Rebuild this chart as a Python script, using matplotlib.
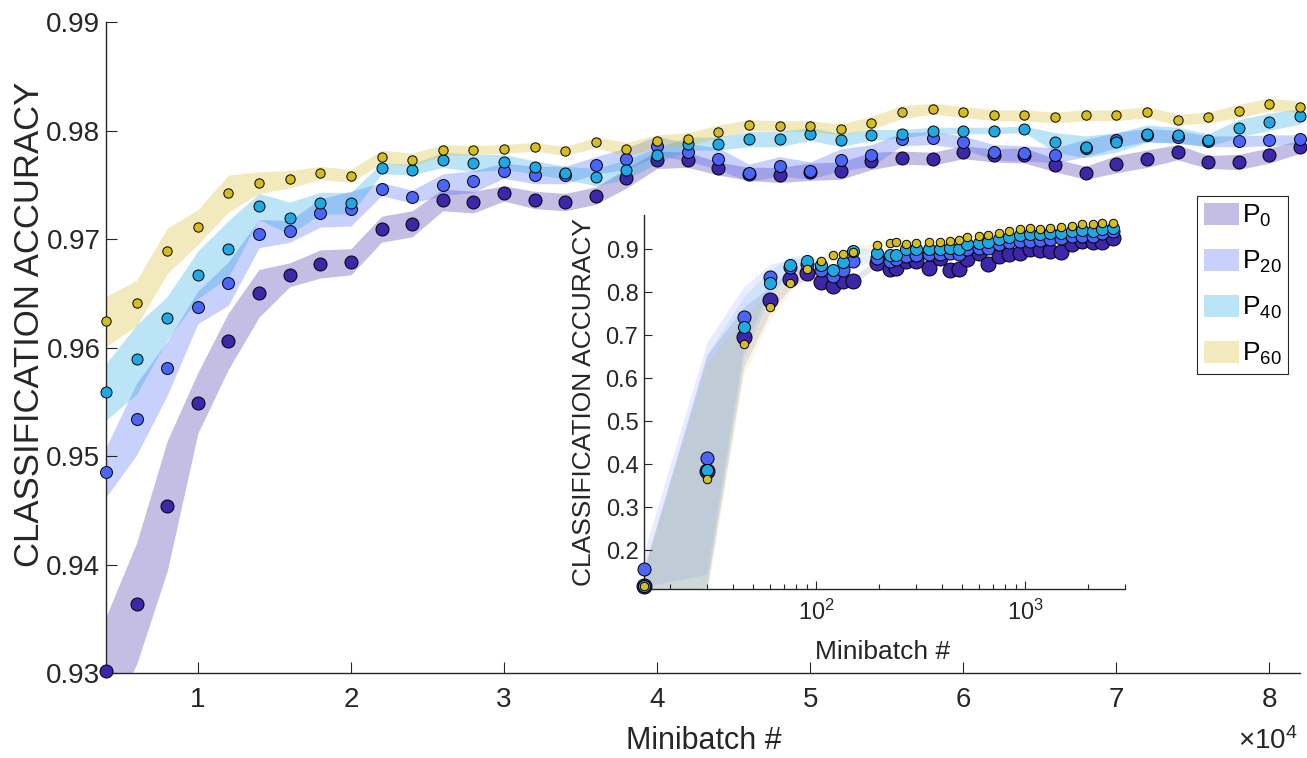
import numpy as np
import matplotlib
matplotlib.use('Agg')
import matplotlib.pyplot as plt
from matplotlib.patches import Patch
from matplotlib.ticker import FixedLocator, FuncFormatter, LogLocator, NullFormatter

plt.rcParams['font.family'] = ['Liberation Sans', 'DejaVu Sans']
plt.rcParams['mathtext.fontset'] = 'custom'
plt.rcParams['mathtext.rm'] = 'Liberation Sans'
plt.rcParams['mathtext.it'] = 'Liberation Sans:italic'
plt.rcParams['mathtext.bf'] = 'Liberation Sans:bold'

# ---- data: main panel (mean accuracy and band half-width per series)
minibatch = list(range(4000, 82001, 2000))

acc_p0 = [0.9302, 0.9364, 0.9454, 0.9549, 0.9606, 0.9650, 0.9667, 0.9677, 0.9679, 0.9709,
          0.9714, 0.9736, 0.9734, 0.9742, 0.9736, 0.9734, 0.9740, 0.9756, 0.9773, 0.9773,
          0.9765, 0.9760, 0.9759, 0.9762, 0.9763, 0.9772, 0.9775, 0.9774, 0.9780, 0.9777,
          0.9777, 0.9768, 0.9761, 0.9769, 0.9774, 0.9780, 0.9771, 0.9771, 0.9777, 0.9785]
acc_p20 = [0.9485, 0.9534, 0.9581, 0.9637, 0.9659, 0.9705, 0.9707, 0.9724, 0.9728, 0.9746,
           0.9739, 0.9750, 0.9753, 0.9763, 0.9759, 0.9759, 0.9768, 0.9774, 0.9786, 0.9780,
           0.9774, 0.9761, 0.9767, 0.9763, 0.9773, 0.9777, 0.9792, 0.9793, 0.9789, 0.9780,
           0.9779, 0.9777, 0.9784, 0.9791, 0.9796, 0.9794, 0.9790, 0.9790, 0.9791, 0.9792]
acc_p40 = [0.9559, 0.9589, 0.9627, 0.9667, 0.9691, 0.9730, 0.9719, 0.9733, 0.9733, 0.9765,
           0.9764, 0.9773, 0.9770, 0.9771, 0.9766, 0.9761, 0.9757, 0.9764, 0.9777, 0.9788,
           0.9788, 0.9792, 0.9792, 0.9797, 0.9791, 0.9796, 0.9797, 0.9800, 0.9800, 0.9800,
           0.9801, 0.9789, 0.9785, 0.9789, 0.9797, 0.9796, 0.9791, 0.9802, 0.9808, 0.9813]
acc_p60 = [0.9624, 0.9641, 0.9689, 0.9711, 0.9742, 0.9752, 0.9755, 0.9761, 0.9758, 0.9776,
           0.9773, 0.9782, 0.9782, 0.9783, 0.9785, 0.9781, 0.9789, 0.9783, 0.9790, 0.9792,
           0.9799, 0.9805, 0.9804, 0.9804, 0.9801, 0.9807, 0.9817, 0.9820, 0.9817, 0.9814,
           0.9814, 0.9812, 0.9814, 0.9814, 0.9817, 0.9810, 0.9812, 0.9818, 0.9824, 0.9822]

hw_p0 = [0.0050, 0.0056, 0.0060, 0.0028, 0.0026, 0.0022, 0.0011, 0.0013, 0.0012, 0.0012,
         0.0012, 0.0010, 0.0010, 0.0007, 0.0008, 0.0008, 0.0008, 0.0009, 0.0008, 0.0007,
         0.0006, 0.0006, 0.0007, 0.0008, 0.0008, 0.0008, 0.0006, 0.0006, 0.0006, 0.0006,
         0.0007, 0.0006, 0.0006, 0.0008, 0.0008, 0.0007, 0.0006, 0.0007, 0.0007, 0.0006]
hw_p20 = [0.0023, 0.0033, 0.0025, 0.0015, 0.0020, 0.0013, 0.0010, 0.0013, 0.0016, 0.0006,
          0.0006, 0.0010, 0.0010, 0.0007, 0.0008, 0.0008, 0.0008, 0.0010, 0.0009, 0.0008,
          0.0010, 0.0008, 0.0009, 0.0008, 0.0010, 0.0010, 0.0006, 0.0006, 0.0006, 0.0007,
          0.0007, 0.0007, 0.0008, 0.0007, 0.0006, 0.0006, 0.0005, 0.0005, 0.0005, 0.0004]
hw_p40 = [0.0026, 0.0032, 0.0020, 0.0022, 0.0026, 0.0012, 0.0015, 0.0010, 0.0010, 0.0005,
          0.0005, 0.0007, 0.0008, 0.0007, 0.0006, 0.0006, 0.0008, 0.0009, 0.0007, 0.0006,
          0.0006, 0.0007, 0.0007, 0.0006, 0.0006, 0.0005, 0.0004, 0.0003, 0.0003, 0.0003,
          0.0003, 0.0009, 0.0010, 0.0009, 0.0008, 0.0007, 0.0006, 0.0008, 0.0008, 0.0007]
hw_p60 = [0.0023, 0.0021, 0.0021, 0.0016, 0.0017, 0.0010, 0.0008, 0.0006, 0.0006, 0.0006,
          0.0006, 0.0005, 0.0004, 0.0004, 0.0004, 0.0004, 0.0005, 0.0006, 0.0006, 0.0006,
          0.0006, 0.0005, 0.0005, 0.0005, 0.0005, 0.0006, 0.0006, 0.0005, 0.0005, 0.0005,
          0.0005, 0.0005, 0.0005, 0.0005, 0.0005, 0.0005, 0.0005, 0.0006, 0.0006, 0.0005]

# ---- data: inset (early minibatches, log x)
inset_minibatch = [15, 30, 45, 60, 75, 90, 105, 120, 135, 150,
                   195, 225, 240, 270, 300, 345, 390, 435, 480, 525,
                   600, 660, 750, 840, 945, 1050, 1170, 1320, 1485, 1665,
                   1860, 2100, 2340, 2625]
in_p0 = [0.117, 0.384, 0.696, 0.783, 0.830, 0.844, 0.825, 0.815, 0.826, 0.826,
         0.869, 0.855, 0.857, 0.873, 0.873, 0.857, 0.880, 0.853, 0.855, 0.877,
         0.892, 0.867, 0.884, 0.890, 0.892, 0.900, 0.899, 0.896, 0.893, 0.913,
         0.919, 0.917, 0.917, 0.927]
in_p20 = [0.156, 0.414, 0.743, 0.835, 0.858, 0.866, 0.852, 0.839, 0.853, 0.873,
          0.879, 0.873, 0.877, 0.884, 0.886, 0.890, 0.889, 0.891, 0.889, 0.900,
          0.904, 0.904, 0.912, 0.917, 0.919, 0.919, 0.923, 0.925, 0.927, 0.931,
          0.932, 0.932, 0.939, 0.943]
in_p40 = [0.117, 0.386, 0.720, 0.821, 0.863, 0.874, 0.863, 0.853, 0.871, 0.896,
          0.892, 0.886, 0.888, 0.900, 0.900, 0.902, 0.902, 0.904, 0.902, 0.912,
          0.915, 0.917, 0.925, 0.929, 0.933, 0.935, 0.935, 0.939, 0.939, 0.943,
          0.944, 0.943, 0.948, 0.950]
in_p60 = [0.117, 0.365, 0.679, 0.765, 0.821, 0.854, 0.874, 0.886, 0.890, 0.893,
          0.910, 0.916, 0.917, 0.913, 0.916, 0.917, 0.917, 0.919, 0.921, 0.928,
          0.931, 0.933, 0.939, 0.943, 0.948, 0.950, 0.948, 0.950, 0.951, 0.955,
          0.960, 0.958, 0.961, 0.961]
in_hw = [0.040, 0.270, 0.070, 0.030, 0.020, 0.015, 0.012, 0.012, 0.010, 0.010,
         0.008, 0.008, 0.008, 0.007, 0.007, 0.007, 0.006, 0.006, 0.006, 0.006,
         0.006, 0.005, 0.005, 0.005, 0.005, 0.005, 0.005, 0.005, 0.005, 0.005,
         0.005, 0.005, 0.005, 0.005]

labels = [r'$\mathregular{P_{0}}$', r'$\mathregular{P_{20}}$',
          r'$\mathregular{P_{40}}$', r'$\mathregular{P_{60}}$']
colors = ['#3d26a8', '#4a65f8', '#20a8e3', '#d4bc22']
main_sizes = [88, 74, 63, 45]
inset_sizes = [117, 88, 75, 37]
axis_col = '#262626'

main_acc = [acc_p0, acc_p20, acc_p40, acc_p60]
main_hw = [hw_p0, hw_p20, hw_p40, hw_p60]
inset_acc = [in_p0, in_p20, in_p40, in_p60]


def style_axes(ax, ticklen, labelsize, xpad, ypad):
    for side in ['top', 'right']:
        ax.spines[side].set_visible(False)
    for side in ['left', 'bottom']:
        ax.spines[side].set_color(axis_col)
        ax.spines[side].set_linewidth(1.0)
    ax.tick_params(which='both', direction='in', colors=axis_col,
                   labelsize=labelsize, width=0.8)
    ax.tick_params(which='major', length=ticklen)
    ax.tick_params(which='minor', length=ticklen * 0.55)
    ax.tick_params(axis='x', pad=xpad)
    ax.tick_params(axis='y', pad=ypad)


fig = plt.figure(figsize=(13.07, 7.58), dpi=100)

# main axes
ax = fig.add_axes([106 / 1307, 85 / 758, 1194 / 1307, 651 / 758])
x = np.array(minibatch)
for acc, hw, c, s in zip(main_acc, main_hw, colors, main_sizes):
    acc = np.array(acc)
    hw = np.array(hw)
    ax.fill_between(x, acc - hw, acc + hw, color=c, alpha=0.3, linewidth=0)
    ax.scatter(x, acc, s=s, color=c, edgecolors='black', linewidths=0.7,
               clip_on=False, zorder=3)

ax.set_xlim(4000, 82000)
ax.set_ylim(0.93, 0.99)
ax.xaxis.set_major_locator(FixedLocator([10000 * k for k in range(1, 9)]))
ax.xaxis.set_major_formatter(FuncFormatter(lambda v, p: '%d' % round(v / 10000)))
ax.yaxis.set_major_locator(FixedLocator([0.93, 0.94, 0.95, 0.96, 0.97, 0.98, 0.99]))
ax.yaxis.set_major_formatter(FuncFormatter(lambda v, p: '%.2f' % v))
style_axes(ax, 8, 20, 10, 4)
ax.set_xlabel('Minibatch #', fontsize=22, color=axis_col, va='center')
ax.xaxis.set_label_coords(0.5008, -0.104)
ax.set_ylabel('CLASSIFICATION ACCURACY', fontsize=25, color=axis_col, va='center')
ax.yaxis.set_label_coords(-0.064, 0.535)
fig.text(1298 / 1307, 3 / 758, r'$\times\mathregular{10^{4}}$',
         ha='right', va='bottom', fontsize=20, color=axis_col)

leg_handles = [Patch(facecolor=c, alpha=0.3, edgecolor='none') for c in colors]
leg = ax.legend(leg_handles, labels, loc='upper left',
                bbox_to_anchor=(1197 / 1307, 1 - 196 / 758), bbox_transform=fig.transFigure,
                borderaxespad=0, fontsize=19, handlelength=1.35, handleheight=0.9,
                handletextpad=0.1, labelspacing=0.75, borderpad=0.25,
                fancybox=False, framealpha=1, edgecolor=axis_col)
leg.get_frame().set_linewidth(0.8)
leg.set_zorder(20)

# inset axes
axi = fig.add_axes([644 / 1307, 169 / 758, 481 / 1307, 374 / 758])
axi.set_zorder(5)
axi.patch.set_facecolor('white')
xi = np.array(inset_minibatch)
for acc, c, s in zip(inset_acc, colors, inset_sizes):
    acc = np.array(acc)
    hw = np.array(in_hw)
    axi.fill_between(xi, acc - hw, acc + hw, color=c, alpha=0.12, linewidth=0)
    axi.scatter(xi, acc, s=s, color=c, edgecolors='black', linewidths=0.7,
                clip_on=False, zorder=3)
axi.set_xscale('log')
axi.set_xlim(15, 3000)
axi.set_ylim(0.11, 0.98)
axi.yaxis.set_major_locator(FixedLocator([0.2, 0.3, 0.4, 0.5, 0.6, 0.7, 0.8, 0.9]))
axi.yaxis.set_major_formatter(FuncFormatter(lambda v, p: '%.1f' % v))
axi.xaxis.set_major_locator(LogLocator(base=10, numticks=10))
axi.xaxis.set_minor_locator(LogLocator(base=10, subs=np.arange(2, 10), numticks=10))
axi.xaxis.set_minor_formatter(NullFormatter())
style_axes(axi, 6, 17, 8, 4)
axi.set_xlabel('Minibatch #', fontsize=19, color=axis_col, va='center')
axi.xaxis.set_label_coords(0.495, -0.168)
axi.set_ylabel('CLASSIFICATION ACCURACY', fontsize=19, color=axis_col, va='center')
axi.yaxis.set_label_coords(-0.125, 0.5)

fig.savefig('out.png', dpi=100)
